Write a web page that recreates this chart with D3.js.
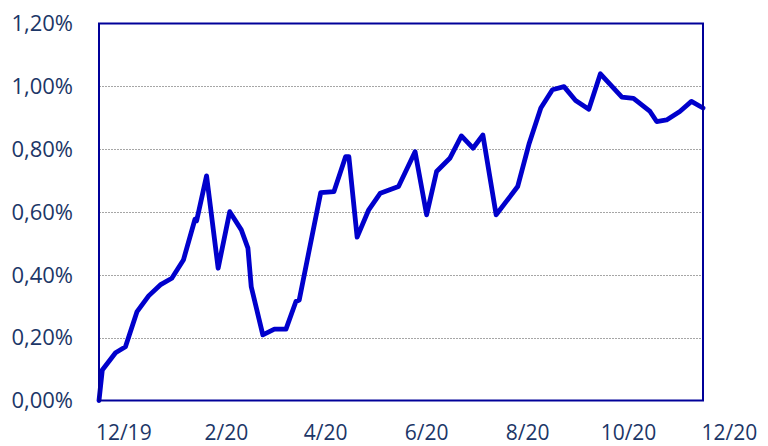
<!DOCTYPE html>
<html>
<head>
<meta charset="utf-8">
<script src="https://cdn.jsdelivr.net/npm/d3@7"></script>
<style>
  html, body { margin: 0; padding: 0; background: #fff; }
  svg { display: block; font-family: "Open Sans", "Noto Sans", sans-serif; }
</style>
</head>
<body>
<svg id="chart" width="768" height="446"></svg>
<script>
// observation dates (irregular, mostly weekly)
const dates = [
  "2019-11-13", "2019-11-15", "2019-11-23", "2019-11-29", "2019-12-06", "2019-12-13",
  "2019-12-20", "2019-12-27", "2020-01-03", "2020-01-10", "2020-01-11", "2020-01-17",
  "2020-01-24", "2020-01-31", "2020-02-07", "2020-02-11", "2020-02-13", "2020-02-20",
  "2020-02-27", "2020-03-05", "2020-03-11", "2020-03-13", "2020-03-26", "2020-04-03",
  "2020-04-10", "2020-04-12", "2020-04-17", "2020-04-24", "2020-05-01", "2020-05-12",
  "2020-05-22", "2020-05-29", "2020-06-04", "2020-06-12", "2020-06-19", "2020-06-26",
  "2020-07-02", "2020-07-10", "2020-07-23", "2020-07-30", "2020-08-06", "2020-08-13",
  "2020-08-20", "2020-08-27", "2020-09-04", "2020-09-11", "2020-09-24", "2020-10-01",
  "2020-10-11", "2020-10-15", "2020-10-21", "2020-10-29", "2020-11-05", "2020-11-12"
];

// values in percent
const values = [
  0.000, 0.097, 0.152, 0.171, 0.283, 0.333,
  0.368, 0.389, 0.447, 0.577, 0.572, 0.715,
  0.421, 0.601, 0.543, 0.485, 0.362, 0.209,
  0.227, 0.227, 0.315, 0.320, 0.662, 0.665,
  0.776, 0.776, 0.520, 0.607, 0.660, 0.681,
  0.792, 0.591, 0.729, 0.771, 0.842, 0.803,
  0.845, 0.591, 0.681, 0.819, 0.931, 0.989,
  0.999, 0.955, 0.927, 1.040, 0.966, 0.962,
  0.920, 0.888, 0.893, 0.920, 0.952, 0.931
];

const yTicks = [0, 0.2, 0.4, 0.6, 0.8, 1.0, 1.2];
const xTicks = ["2019-12-01", "2020-02-01", "2020-04-01", "2020-06-01", "2020-08-01", "2020-10-01", "2020-12-01"];

const parse = d3.timeParse("%Y-%m-%d");
const data = dates.map((d, i) => ({ date: parse(d), value: values[i] }));

const plot = { left: 99, right: 703, top: 23.5, bottom: 400.5 };
const svg = d3.select("#chart");

const x = d3.scaleTime()
  .domain([parse("2019-11-13"), parse("2020-11-12")])
  .range([plot.left, plot.right]);

const y = d3.scaleLinear()
  .domain([0, 1.2])
  .range([plot.bottom, plot.top]);

const locale = d3.formatLocale({ decimal: ",", thousands: ".", grouping: [3], currency: ["", ""] });
const fmtPct = locale.format(".2f");

const textColor = "#1c3667";

// gridlines
svg.append("g")
  .selectAll("line")
  .data(yTicks.filter(t => t > 0 && t < 1.2))
  .join("line")
  .attr("x1", plot.left)
  .attr("x2", plot.right)
  .attr("y1", d => Math.round(y(d)) + 0.5)
  .attr("y2", d => Math.round(y(d)) + 0.5)
  .attr("stroke", "#a6a6a6")
  .attr("stroke-width", 1)
  .attr("stroke-dasharray", "2,1");

// y labels
svg.append("g")
  .selectAll("text")
  .data(yTicks)
  .join("text")
  .attr("x", 73)
  .attr("y", d => y(d))
  .attr("dy", "0.35em")
  .attr("text-anchor", "end")
  .attr("fill", textColor)
  .style("font-size", "22px")
  .text(d => fmtPct(d) + "%");

// x labels
const fmtDate = d3.timeFormat("%-m/%y");
svg.append("g")
  .selectAll("text")
  .data(xTicks.map(parse))
  .join("text")
  .attr("x", d => x(d) - 5)
  .attr("y", 439.5)
  .attr("text-anchor", "middle")
  .attr("fill", textColor)
  .style("font-size", "21px")
  .text(d => fmtDate(d));

// series line
const line = d3.line()
  .x(d => x(d.date))
  .y(d => y(d.value));

svg.append("path")
  .datum(data)
  .attr("fill", "none")
  .attr("stroke", "#0000cc")
  .attr("stroke-width", 4.8)
  .attr("stroke-linejoin", "round")
  .attr("stroke-linecap", "round")
  .attr("d", line);

// plot frame
svg.append("rect")
  .attr("x", plot.left)
  .attr("y", plot.top)
  .attr("width", plot.right - plot.left)
  .attr("height", plot.bottom - plot.top)
  .attr("fill", "none")
  .attr("stroke", "#000099")
  .attr("stroke-width", 2);
</script>
</body>
</html>
